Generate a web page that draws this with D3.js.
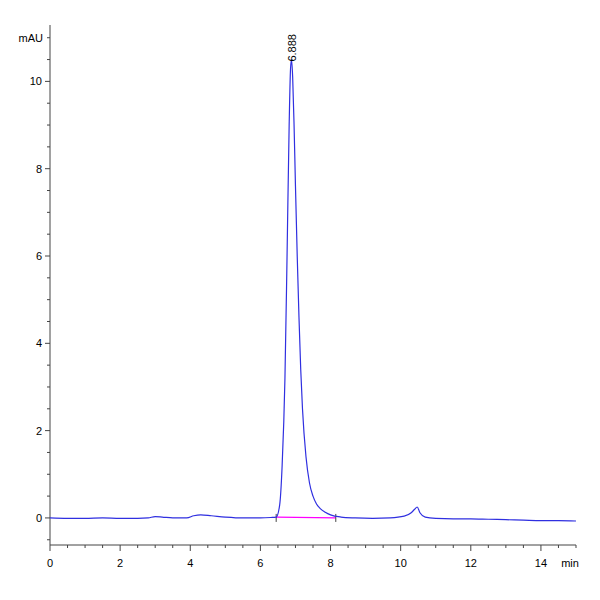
<!DOCTYPE html>
<html lang='en'>
<head>
    <meta charset='UTF-8' />
    <script src="https://cdn.jsdelivr.net/npm/d3@7"></script>
    <style>
        html, body { margin: 0; background: white; }
        text { font-family: "Liberation Sans", Arial, sans-serif; font-size: 11px; }
    </style>
</head>
<body>
<svg id="chart" width="600" height="600"></svg>
<script>
    // chromatogram trace (time in min, signal in mAU)
    const times = [0, 0.5, 1, 1.5, 2, 2.5, 2.8, 3.0, 3.2, 3.5, 3.9, 4.1, 4.3, 4.6, 5.0, 5.5, 6.0, 6.3, 6.45,
        6.55, 6.62, 6.7, 6.76, 6.82, 6.86, 6.888, 6.92, 6.96, 7.0, 7.05, 7.1, 7.15, 7.2, 7.3, 7.4, 7.5, 7.6,
        7.7, 7.85, 8.0, 8.3, 8.7, 9.2, 9.7, 10.1, 10.3, 10.4, 10.47, 10.55, 10.7, 11.0, 11.5, 12, 12.5, 13,
        13.5, 14, 14.5, 15];
    const signal = [0.0, -0.01, -0.01, 0.0, -0.01, -0.01, 0.0, 0.03, 0.02, 0.0, 0.0, 0.05, 0.07, 0.05, 0.02,
        0.0, 0.0, 0.01, 0.02, 0.3, 1.2, 3.2, 6.0, 9.0, 10.3, 10.5, 10.1, 9.0, 7.6, 6.0, 4.6, 3.4, 2.5, 1.4,
        0.8, 0.5, 0.32, 0.22, 0.13, 0.07, 0.02, 0.0, -0.01, 0.0, 0.04, 0.12, 0.2, 0.25, 0.12, 0.02, -0.01,
        -0.02, -0.02, -0.03, -0.04, -0.05, -0.06, -0.06, -0.07];
    const peakTime = 6.888, peakHeight = 10.5, peakLabel = "6.888";
    const baseStart = 6.45, baseEnd = 8.15;
    const xTicks = [0, 2, 4, 6, 8, 10, 12, 14];
    const yTicks = [0, 2, 4, 6, 8, 10];

    const svg = d3.select("#chart");
    const x = d3.scaleLinear().domain([0, 15]).range([50, 576]);
    const y = d3.scaleLinear().domain([-0.62, 11.2]).range([545, 29]);

    // y axis
    svg.append("line").attr("x1", 50).attr("x2", 50).attr("y1", 25).attr("y2", 545).attr("stroke", "#444");
    d3.range(-0.5, 11.01, 0.5).forEach(v => {
        const major = yTicks.includes(v);
        svg.append("line").attr("x1", major ? 45 : 47).attr("x2", 50)
            .attr("y1", y(v)).attr("y2", y(v)).attr("stroke", "#444");
    });
    yTicks.forEach(v => svg.append("text").attr("x", 42).attr("y", y(v) + 4)
        .attr("text-anchor", "end").text(v));
    svg.append("text").attr("x", 43).attr("y", y(11) + 4).attr("text-anchor", "end").text("mAU");

    // x axis
    svg.append("line").attr("x1", 50).attr("x2", 576).attr("y1", 545).attr("y2", 545).attr("stroke", "#444");
    d3.range(0, 15.01, 0.5).forEach(v => {
        const major = xTicks.includes(v);
        svg.append("line").attr("x1", x(v)).attr("x2", x(v)).attr("y1", 545)
            .attr("y2", major ? 551 : 548).attr("stroke", "#444");
    });
    xTicks.forEach(v => svg.append("text").attr("x", x(v)).attr("y", 567)
        .attr("text-anchor", "middle").text(v));
    svg.append("text").attr("x", 570).attr("y", 567).attr("text-anchor", "middle").text("min");

    // integration baseline
    svg.append("line").attr("x1", x(baseStart)).attr("x2", x(baseEnd))
        .attr("y1", y(0.02)).attr("y2", y(0.0)).attr("stroke", "#ff00ff").attr("stroke-width", 1.2);
    [baseStart, baseEnd].forEach(t => svg.append("line").attr("x1", x(t)).attr("x2", x(t))
        .attr("y1", y(0) - 4).attr("y2", y(0) + 4).attr("stroke", "#444"));

    // trace
    const data = times.map((t, i) => [t, signal[i]]);
    svg.append("path").datum(data)
        .attr("d", d3.line().x(d => x(d[0])).y(d => y(d[1])).curve(d3.curveMonotoneX))
        .attr("fill", "none").attr("stroke", "#2f2fe0").attr("stroke-width", 1.2);

    // peak label
    svg.append("text").attr("transform", `translate(${x(peakTime) + 4},${y(peakHeight) + 2}) rotate(-90)`)
        .text(peakLabel);
</script>
</body>
</html>
